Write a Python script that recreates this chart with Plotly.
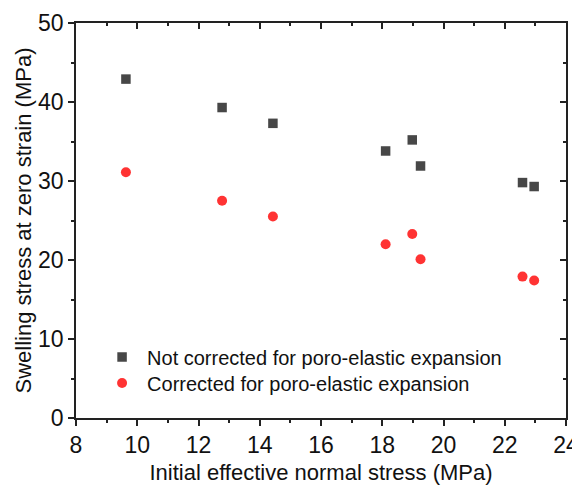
import plotly.graph_objects as go

stress = [9.63, 12.77, 14.43, 18.11, 18.98, 19.25, 22.58, 22.96]
not_corrected = [42.9, 39.3, 37.3, 33.8, 35.2, 31.9, 29.8, 29.3]
corrected = [31.1, 27.5, 25.5, 22.0, 23.3, 20.1, 17.9, 17.4]

font_family = "Liberation Sans, Arial, sans-serif"

fig = go.Figure()
fig.add_trace(go.Scatter(x=stress, y=not_corrected, mode="markers",
                         name="Not corrected for poro-elastic expansion", legend="legend",
                         marker=dict(symbol="square", size=9.5, color="#474747")))
fig.add_trace(go.Scatter(x=stress, y=corrected, mode="markers",
                         name="Corrected for poro-elastic expansion", legend="legend2",
                         marker=dict(symbol="circle", size=10, color="#ff3333")))
fig.add_trace(go.Scatter(x=[], y=[], xaxis="x2", yaxis="y2", showlegend=False, hoverinfo="skip"))

axis_common = dict(showgrid=False, zeroline=False, showline=True, linecolor="#222", linewidth=1.5,
                   tickcolor="#222", tickwidth=1.5, ticklen=6, automargin=False)

legend_common = dict(xanchor="left", yanchor="middle", bgcolor="rgba(0,0,0,0)",
                     font=dict(size=20), itemwidth=40)

fig.update_layout(
    width=572, height=479,
    margin=dict(l=68, r=14, t=15, b=69),
    paper_bgcolor="white", plot_bgcolor="white",
    font=dict(family=font_family, color="#111"),
    xaxis=dict(range=[8, 24], dtick=2, ticks="outside", **axis_common,
               tickfont=dict(size=23),
               minor=dict(dtick=1, ticklen=3, ticks="outside", tickcolor="#222", tickwidth=1.5),
               title=dict(text="Initial effective normal stress (MPa)", font=dict(size=22), standoff=7)),
    yaxis=dict(range=[0, 50], dtick=10, ticks="outside", **axis_common,
               tickfont=dict(size=23),
               minor=dict(dtick=5, ticklen=3, ticks="outside", tickcolor="#222", tickwidth=1.5),
               title=dict(text="Swelling stress at zero strain (MPa)", font=dict(size=22), standoff=0)),
    xaxis2=dict(range=[8, 24], dtick=2, ticks="inside", overlaying="x", side="top",
                showticklabels=False, **axis_common,
                minor=dict(dtick=1, ticklen=3, ticks="inside", tickcolor="#222", tickwidth=1.5)),
    yaxis2=dict(range=[0, 50], dtick=10, ticks="inside", overlaying="y", side="right",
                showticklabels=False, **axis_common,
                minor=dict(dtick=5, ticklen=3, ticks="inside", tickcolor="#222", tickwidth=1.5)),
    legend=dict(x=0.043, y=0.1544, **legend_common),
    legend2=dict(x=0.043, y=0.0886, **legend_common),
    showlegend=True,
)

fig.write_html("out.html")
